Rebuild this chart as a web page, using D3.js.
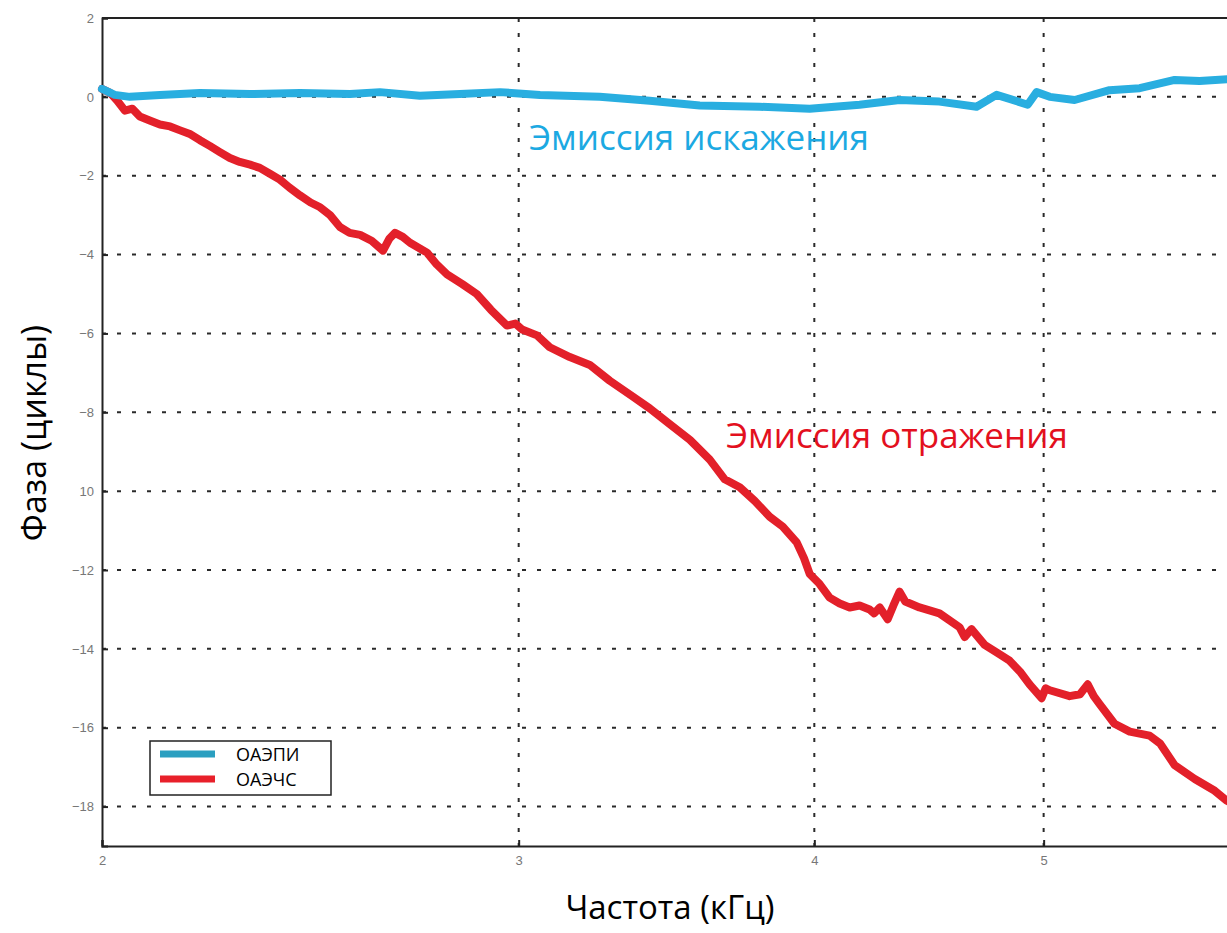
<!DOCTYPE html>
<html>
<head>
<meta charset="utf-8">
<script src="https://cdn.jsdelivr.net/npm/d3@7"></script>
<style>
  body { margin: 0; background: #fff; overflow: hidden; }
  text { font-family: "Open Sans", "Noto Sans", sans-serif; }
</style>
</head>
<body>
<div id="chart"></div>
<script>
// данные
var freqTicks = [2, 3, 4, 5, 6];
var phaseTicks = [2, 0, -2, -4, -6, -8, -10, -12, -14, -16, -18];
var phaseTickLabels = ["2", "0", "\u22122", "\u22124", "\u22126", "\u22128", "10", "\u221212", "\u221214", "\u221216", "\u221218"];

var blueFreq = [2.000, 2.025, 2.055, 2.116, 2.200, 2.310, 2.425, 2.546, 2.621, 2.725, 2.833, 2.946, 3.063, 3.246, 3.408, 3.578, 3.793, 3.982, 4.180, 4.346, 4.518, 4.684, 4.776, 4.837, 4.923, 4.966, 5.030, 5.153, 5.331, 5.490, 5.680, 5.819, 6.000];
var bluePhase = [0.2, 0.05, 0.0, 0.05, 0.1, 0.07, 0.1, 0.07, 0.12, 0.03, 0.07, 0.12, 0.05, 0.0, -0.1, -0.22, -0.25, -0.3, -0.2, -0.08, -0.12, -0.25, 0.05, -0.05, -0.2, 0.12, 0.0, -0.08, 0.17, 0.22, 0.43, 0.4, 0.45];

var redFreq = [2.000, 2.016, 2.030, 2.045, 2.060, 2.075, 2.095, 2.116, 2.137, 2.158, 2.180, 2.200, 2.222, 2.243, 2.265, 2.287, 2.310, 2.332, 2.355, 2.378, 2.400, 2.425, 2.450, 2.473, 2.497, 2.521, 2.545, 2.571, 2.600, 2.629, 2.645, 2.660, 2.680, 2.699, 2.744, 2.770, 2.798, 2.840, 2.880, 2.920, 2.966, 2.990, 3.010, 3.054, 3.092, 3.153, 3.215, 3.278, 3.352, 3.408, 3.475, 3.544, 3.613, 3.666, 3.720, 3.775, 3.830, 3.879, 3.932, 3.960, 3.982, 4.020, 4.060, 4.100, 4.140, 4.180, 4.221, 4.240, 4.263, 4.296, 4.320, 4.346, 4.370, 4.431, 4.518, 4.607, 4.630, 4.661, 4.721, 4.780, 4.837, 4.890, 4.932, 4.990, 5.010, 5.030, 5.128, 5.180, 5.219, 5.250, 5.280, 5.357, 5.437, 5.543, 5.600, 5.680, 5.792, 5.906, 5.975, 6.000];
var redPhase = [0.2, 0.1, -0.1, -0.35, -0.3, -0.5, -0.6, -0.7, -0.75, -0.85, -0.95, -1.1, -1.25, -1.4, -1.55, -1.65, -1.72, -1.8, -1.95, -2.1, -2.3, -2.5, -2.68, -2.8, -3.0, -3.3, -3.45, -3.5, -3.65, -3.9, -3.6, -3.45, -3.55, -3.7, -3.95, -4.25, -4.5, -4.75, -5.0, -5.4, -5.8, -5.75, -5.9, -6.05, -6.35, -6.6, -6.8, -7.2, -7.6, -7.9, -8.3, -8.7, -9.2, -9.7, -9.9, -10.25, -10.65, -10.9, -11.3, -11.7, -12.1, -12.35, -12.7, -12.85, -12.95, -12.9, -13.0, -13.1, -12.95, -13.25, -12.9, -12.55, -12.8, -12.95, -13.1, -13.45, -13.7, -13.5, -13.9, -14.1, -14.3, -14.6, -14.9, -15.25, -15.0, -15.05, -15.2, -15.15, -14.9, -15.2, -15.4, -15.9, -16.1, -16.2, -16.4, -16.95, -17.3, -17.6, -17.85, -17.9];

var seriesNames = ["ОАЭПИ", "ОАЭЧС"];

var W = 1227, H = 933;
var margin = {top: 18, left: 102};
var plotRight = 1231, plotBottom = 846;

var svg = d3.select("#chart").append("svg")
  .attr("width", W).attr("height", H);

var x = d3.scaleLog().domain([2, 6]).range([margin.left, plotRight]);
var y = d3.scaleLinear().domain([-19, 2]).range([plotBottom, margin.top]);

// сетка
svg.append("g").selectAll("line")
  .data(phaseTicks.filter(d => d !== 2))
  .enter().append("line")
  .attr("x1", margin.left).attr("x2", plotRight)
  .attr("y1", d => y(d)).attr("y2", d => y(d))
  .attr("stroke", "#2a2a2a").attr("stroke-width", 2)
  .attr("stroke-dasharray", "4,11");

svg.append("g").selectAll("line")
  .data(freqTicks.filter(d => d !== 2 && d !== 6))
  .enter().append("line")
  .attr("x1", d => x(d)).attr("x2", d => x(d))
  .attr("y1", margin.top).attr("y2", plotBottom)
  .attr("stroke", "#2a2a2a").attr("stroke-width", 2)
  .attr("stroke-dasharray", "4,11");

// оси
var yAxis = d3.axisLeft(y).tickValues(phaseTicks)
  .tickFormat((d, i) => phaseTickLabels[i]).tickSize(-6).tickPadding(8);
var gy = svg.append("g").attr("transform", "translate(" + margin.left + ",0)").call(yAxis);

var xAxis = d3.axisBottom(x).tickValues(freqTicks)
  .tickFormat(d3.format("d")).tickSize(-6).tickPadding(10);
var gx = svg.append("g").attr("transform", "translate(0," + plotBottom + ")").call(xAxis);

[gx, gy].forEach(function(g) {
  g.select(".domain").attr("stroke", "#222").attr("stroke-width", 2);
  g.selectAll(".tick line").attr("stroke", "#222").attr("stroke-width", 2);
  g.selectAll(".tick text").attr("fill", "#777")
    .style("font-family", "Liberation Sans, Arial, sans-serif").style("font-size", "13px");
});

// верхняя рамка
svg.append("line")
  .attr("x1", margin.left).attr("x2", plotRight)
  .attr("y1", margin.top).attr("y2", margin.top)
  .attr("stroke", "#222").attr("stroke-width", 2);

// линии
var line = d3.line().x(d => x(d[0])).y(d => y(d[1]));

svg.append("path")
  .datum(redFreq.map((f, i) => [f, redPhase[i]]))
  .attr("d", line).attr("fill", "none")
  .attr("stroke", "#e3202a").attr("stroke-width", 8)
  .attr("stroke-linejoin", "round").attr("stroke-linecap", "round");

svg.append("path")
  .datum(blueFreq.map((f, i) => [f, bluePhase[i]]))
  .attr("d", line).attr("fill", "none")
  .attr("stroke", "#29aee0").attr("stroke-width", 8)
  .attr("stroke-linejoin", "round").attr("stroke-linecap", "round");

// подписи
svg.append("text").attr("x", 529).attr("y", 150)
  .attr("fill", "#1ca9e2").style("font-size", "35px")
  .text("Эмиссия искажения");

svg.append("text").attr("x", 726).attr("y", 448)
  .attr("fill", "#e3101e").style("font-size", "35px")
  .text("Эмиссия отражения");

svg.append("text").attr("x", 670).attr("y", 919)
  .attr("text-anchor", "middle").attr("fill", "#000").style("font-size", "33px")
  .text("Частота (кГц)");

svg.append("text")
  .attr("transform", "translate(46,433) rotate(-90)")
  .attr("text-anchor", "middle").attr("fill", "#000").style("font-size", "34px")
  .text("Фаза (циклы)");

// легенда
var legend = svg.append("g").attr("transform", "translate(150,741)");
legend.append("rect").attr("width", 181).attr("height", 54)
  .attr("fill", "#fff").attr("stroke", "#222").attr("stroke-width", 1.5);
var legendColors = ["#2a9fc0", "#e8202a"];
seriesNames.forEach(function(name, i) {
  legend.append("line")
    .attr("x1", 10).attr("x2", 65)
    .attr("y1", 13 + i * 25).attr("y2", 13 + i * 25)
    .attr("stroke", legendColors[i]).attr("stroke-width", 7);
  legend.append("text").attr("x", 86).attr("y", 20 + i * 25)
    .attr("fill", "#000").style("font-size", "18px")
    .text(name);
});
</script>
</body>
</html>
